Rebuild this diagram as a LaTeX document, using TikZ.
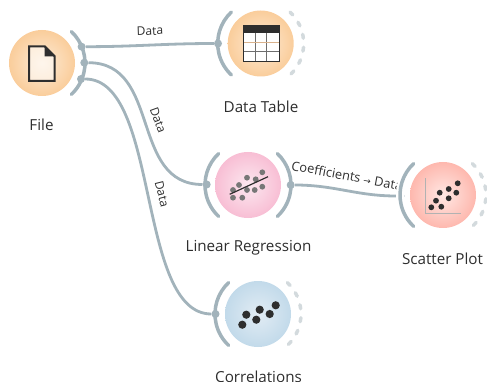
\documentclass[tikz,border=0pt]{standalone}
\usepackage{fontspec}
\setmainfont{Open Sans}
\newfontfamily\arrowfont{DejaVu Sans}
\usetikzlibrary{shapes, arrows, positioning}
\definecolor{portgray}{HTML}{A2B3BB}
\definecolor{idlegray}{HTML}{D3DADD}
\definecolor{ink}{HTML}{2E2E2E}
\tikzstyle{widget} = [circle, minimum size=66pt, inner sep=0pt]
\tikzstyle{orange} = [widget, inner color={rgb,255:red,253;green,235;blue,214}, outer color={rgb,255:red,250;green,205;blue,155}]
\tikzstyle{pink}   = [widget, inner color={rgb,255:red,252;green,232;blue,240}, outer color={rgb,255:red,248;green,190;blue,212}]
\tikzstyle{salmon} = [widget, inner color={rgb,255:red,255;green,232;blue,228}, outer color={rgb,255:red,254;green,184;blue,174}]
\tikzstyle{ice}    = [widget, inner color={rgb,255:red,226;green,236;blue,244}, outer color={rgb,255:red,194;green,218;blue,234}]
\tikzstyle{title}  = [font=\fontsize{15.2}{17}\selectfont, text=ink, inner sep=0pt]
\tikzstyle{tag}    = [font=\fontsize{12}{14}\selectfont, text=ink, inner sep=0pt]
\tikzstyle{port}   = [circle, fill=portgray, minimum size=8pt, inner sep=0pt]
\tikzstyle{bow}    = [draw=portgray, line width=3.5pt, line cap=round]
\tikzstyle{idle}   = [draw=idlegray, line width=3.5pt, line cap=round, dash pattern=on 4pt off 9pt]
\tikzstyle{link}   = [draw=portgray, line width=2.8pt]
\tikzstyle{dot}    = [fill=ink]
\newcommand{\inbow}[1]{\draw [bow] (#1.center) ++(133:43) arc (133:227:43);}
\newcommand{\outbow}[1]{\draw [bow] (#1.center) ++(47:43) arc (47:-47:43);}
\newcommand{\idlebow}[1]{\draw [idle] (#1.center) ++(47:43) arc (47:-47:43);}

\begin{document}
\begin{tikzpicture}[x=1pt, y=1pt]
\useasboundingbox (0,0) rectangle (487,-382);

% nodes
\node [orange] at (  42 ,  -63 ) (file)   {};
\node [orange] at ( 260.7, -43.5) (table)  {};
\node [pink]   at ( 248 , -185 ) (regr)   {};
\node [salmon] at ( 443 , -195 ) (scatter) {};
\node [ice]    at ( 258 , -314 ) (corr)   {};

\node [title] at (  41.5, -125 ) (filetxt)    {File};
\node [title] at ( 261  , -107 ) (tabletxt)   {Data Table};
\node [title] at ( 248.5, -248 ) (regrtxt)    {Linear Regression};
\node [title] at ( 442.5, -259 ) (scattertxt) {Scatter Plot};
\node [title] at ( 258.5, -377 ) (corrtxt)    {Correlations};

\node [port] at (  81.6,  -46.7) (fileA)    {};
\node [port] at (  84.3,  -62.7) (fileB)    {};
\node [port] at (  81  ,  -79  ) (fileC)    {};
\node [port] at ( 218  ,  -43.5) (tablein)  {};
\node [port] at ( 206.7, -184.5) (regrin)   {};
\node [port] at ( 290.7, -185  ) (regrout)  {};
\node [port] at ( 400.5, -196  ) (scatterin) {};
\node [port] at ( 215.5, -314  ) (corrin)   {};

\node [tag, rotate=2]     at ( 150 ,  -31 ) (tabletag) {Data};
\node [tag, rotate=-70]   at ( 158 , -120 ) (regrtag)  {Data};
\node [tag, rotate=-76]   at ( 162 , -194 ) (corrtag)  {Data};
\node [tag, rotate=-10.5, font=\fontsize{12.8}{14}\selectfont] at ( 347 , -175.5 ) (coeftag)  {Coefficients {\arrowfont\fontsize{9}{10}\selectfont →} Data};

% edges
\path [link]
  (fileA) edge [out=0, in=180] (tablein)

  (fileB) edge [out=0, in=180, looseness=1.12] (regrin)

  (fileC) edge [out=0, in=180, looseness=0.72] (corrin)

  (regrout) edge [out=0, in=180] (scatterin);

% widget bows
\draw [white, line width=8pt] (scatter.center) ++(133:43) arc (133:227:43);
\outbow{file}
\inbow{table}  \idlebow{table}
\inbow{regr}   \outbow{regr}
\inbow{scatter} \idlebow{scatter}
\inbow{corr}   \idlebow{corr}

% file icon
\begin{scope}[shift={(file.center)}]
  \draw [ink, line width=2pt, fill=white, fill opacity=0.55] (-13,16.7) -- (2.7,16.7) -- (12.7,6.7) -- (12.7,-18) -- (-13,-18) -- cycle;
  \fill [ink] (2.7,16.7) -- (12.7,6.7) -- (2.7,6.7) -- cycle;
\end{scope}

% table icon
\begin{scope}[shift={(table.center)}]
  \fill [white] (-17.3,17.7) rectangle (18.7,-18.3);
  \fill [ink] (-17.3,17.7) rectangle (18.7,10);
  \draw [ink!70, line width=0.7pt] (-5.7,10) -- (-5.7,-18.3) (6,10) -- (6,-18.3) (-17.3,-8.3) -- (18.7,-8.3);
  \draw [orange!50!gray!60, line width=0.7pt] (-17.3,1) -- (18.7,1);
  \draw [ink, line width=1pt] (-17.3,17.7) rectangle (18.7,-18.3);
\end{scope}

% regression icon
\begin{scope}[shift={(regr.center)}]
  \foreach \x/\y in {14.3/12.7, 7.7/5.7, -1/7.3, -9/0, -1/-5, 6.7/-5, 14.3/-1.7, -15/-5, -15/-12.7, -5.7/-12.7}
    \fill [ink!65] (\x,\y) circle (2.9);
  \draw [ink, line width=1.2pt] (-18.3,-9.3) -- (20,8.3);
\end{scope}

% scatter icon
\begin{scope}[shift={(scatter.center)}]
  \draw [gray!60, line width=1.2pt] (-17.7,16.7) -- (-17.7,-18.3) -- (18,-18.3);
  \foreach \x/\y in {14.7/11.7, 5.7/6, -3.3/2.3, 13.3/2.3, 5.7/-3.3, -7/-5.7, -1.7/-11.7, -11.7/-12.3}
    \fill [dot] (\x,\y) circle (2.9);
\end{scope}

% correlation icon
\begin{scope}[shift={(corr.center)}]
  \foreach \x/\y in {17.7/8.7, 1.7/4.3, 11.7/0, -11.7/-0.7, -1.7/-5.7, -15.7/-10.7}
    \fill [dot] (\x,\y) circle (4.1);
\end{scope}

\end{tikzpicture}
\end{document}
